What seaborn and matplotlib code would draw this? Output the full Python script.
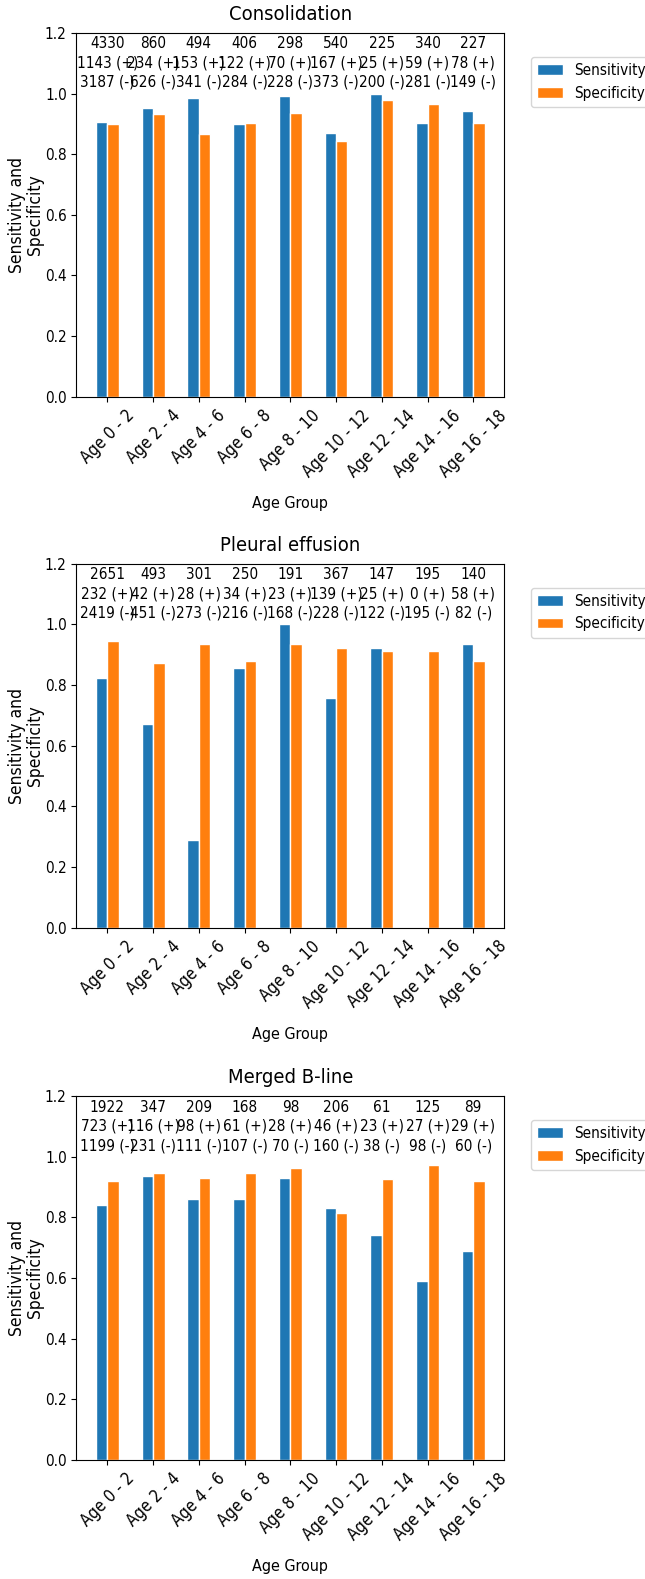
import numpy as np
import pandas as pd
import matplotlib
matplotlib.use("Agg")
import matplotlib.pyplot as plt
from matplotlib import font_manager
import seaborn as sns

# Age groups
groups = ["Age 0 - 2", "Age 2 - 4", "Age 4 - 6", "Age 6 - 8", "Age 8 - 10",
          "Age 10 - 12", "Age 12 - 14", "Age 14 - 16", "Age 16 - 18"]

# Consolidation
cons_sens = [0.907, 0.952, 0.986, 0.898, 0.991, 0.869, 1.000, 0.902, 0.941]
cons_spec = [0.898, 0.931, 0.865, 0.902, 0.936, 0.842, 0.980, 0.964, 0.902]
cons_total = [4330, 860, 494, 406, 298, 540, 225, 340, 227]
cons_pos = [1143, 234, 153, 122, 70, 167, 25, 59, 78]
cons_neg = [3187, 626, 341, 284, 228, 373, 200, 281, 149]

# Pleural effusion
pleu_sens = [0.824, 0.670, 0.288, 0.857, 1.000, 0.758, 0.923, np.nan, 0.934]
pleu_spec = [0.946, 0.874, 0.934, 0.880, 0.934, 0.923, 0.913, 0.913, 0.880]
pleu_total = [2651, 493, 301, 250, 191, 367, 147, 195, 140]
pleu_pos = [232, 42, 28, 34, 23, 139, 25, 0, 58]
pleu_neg = [2419, 451, 273, 216, 168, 228, 122, 195, 82]

# Merged B-line
bline_sens = [0.841, 0.936, 0.859, 0.859, 0.931, 0.830, 0.741, 0.589, 0.690]
bline_spec = [0.919, 0.947, 0.931, 0.947, 0.964, 0.813, 0.926, 0.974, 0.919]
bline_total = [1922, 347, 209, 168, 98, 206, 61, 125, 89]
bline_pos = [723, 116, 98, 61, 28, 46, 23, 27, 29]
bline_neg = [1199, 231, 111, 107, 70, 160, 38, 98, 60]

panels = [
    ("Consolidation", cons_sens, cons_spec, cons_total, cons_pos, cons_neg),
    ("Pleural effusion", pleu_sens, pleu_spec, pleu_total, pleu_pos, pleu_neg),
    ("Merged B-line", bline_sens, bline_spec, bline_total, bline_pos, bline_neg),
]

# narrow font for horizontal text if we have one
names = {f.name for f in font_manager.fontManager.ttflist}
if "Liberation Sans Narrow" in names:
    plt.rcParams["font.family"] = ["Liberation Sans Narrow", "DejaVu Sans"]
else:
    plt.rcParams["font.family"] = ["DejaVu Sans"]
    plt.rcParams["font.stretch"] = "condensed"
plt.rcParams["font.size"] = 11

fig = plt.figure(figsize=(6.45, 15.79), dpi=100)
bottoms = [0.7487, 0.4125, 0.0754]

for (title, sens, spec, total, pos, neg), b in zip(panels, bottoms):
    ax = fig.add_axes([0.1186, b, 0.663, 0.2305])
    df = pd.DataFrame({
        "group": groups * 2,
        "metric": ["Sensitivity"] * len(groups) + ["Specificity"] * len(groups),
        "value": list(sens) + list(spec),
    })
    sns.barplot(data=df, x="group", y="value", hue="metric", order=groups,
                palette=["#1f77b4", "#ff7f0e"], saturation=1, width=0.5, gap=0,
                edgecolor="white", linewidth=1, errorbar=None, ax=ax)
    for i in range(len(groups)):
        ax.text(i, 1.1, f"{total[i]}\n{pos[i]} (+)\n{neg[i]} (-)",
                ha="center", va="center", linespacing=1.35)
    ax.set_xlim(-0.675, 8.675)
    ax.set_ylim(0, 1.2)
    ax.set_yticks(np.arange(0, 1.21, 0.2))
    ax.set_title(title, fontsize=14.5, pad=9)
    ax.set_xlabel("Age Group", fontsize=11.5, labelpad=11)
    ax.set_ylabel("Sensitivity and\nSpecificity", family="DejaVu Sans",
                  fontsize=12.5, labelpad=1, linespacing=0.95)
    ax.set_xticks(range(len(groups)))
    ax.set_xticklabels(groups, rotation=45, family="DejaVu Sans", fontsize=12)
    sns.move_legend(ax, "upper left", bbox_to_anchor=(1.045, 0.955), title=None,
                    handlelength=1.7, handletextpad=0.7)

plt.savefig("out.png", dpi=100)
plt.close()
